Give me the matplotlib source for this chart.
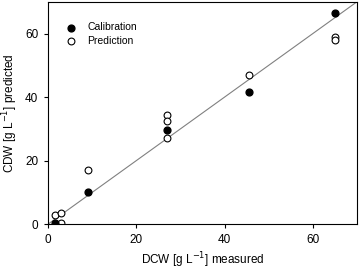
import matplotlib
matplotlib.use("Agg")
import matplotlib.pyplot as plt

plt.rcParams['font.family'] = ['Liberation Sans', 'DejaVu Sans']

cal_x = [1.5, 9, 27, 45.5, 65]
cal_y = [0.5, 10, 29.5, 41.5, 66.5]
pred_x = [1.5, 3, 3, 9, 27, 27, 27, 45.5, 65, 65]
pred_y = [3, 3.5, 0.5, 17, 34.5, 32.5, 27, 47, 59, 58]
line_x = [0, 70]
line_y = [0, 70]

fig = plt.figure(figsize=(3.59, 2.70), dpi=100)
ax = fig.add_axes([0.134, 0.170, 0.860, 0.823])
ax.plot(line_x, line_y, color='#808080', lw=0.8, zorder=1)
ax.scatter(cal_x, cal_y, s=24, color='black', zorder=3, label='Calibration')
ax.scatter(pred_x, pred_y, s=24, facecolor='white', edgecolor='black', linewidths=0.8, zorder=2, label='Prediction')
ax.set_xlim(0, 70)
ax.set_ylim(0, 70)
ax.set_xticks([0, 20, 40, 60])
ax.set_yticks([0, 20, 40, 60])
ax.tick_params(direction='out', length=3, width=0.8, labelsize=8.5, pad=4)
for s in ax.spines.values():
    s.set_linewidth(0.8)
ax.set_xlabel('DCW [g L$^{-1}$] measured', fontsize=8.5, labelpad=3)
ax.set_ylabel('CDW [g L$^{-1}$] predicted', fontsize=8.5, labelpad=4)
ax.legend(loc='upper left', bbox_to_anchor=(0.02, 0.95), frameon=False, fontsize=7.5,
          handletextpad=0.8, borderaxespad=0.5, labelspacing=0.35, handlelength=1.5)
fig.savefig('out.png', dpi=100)
